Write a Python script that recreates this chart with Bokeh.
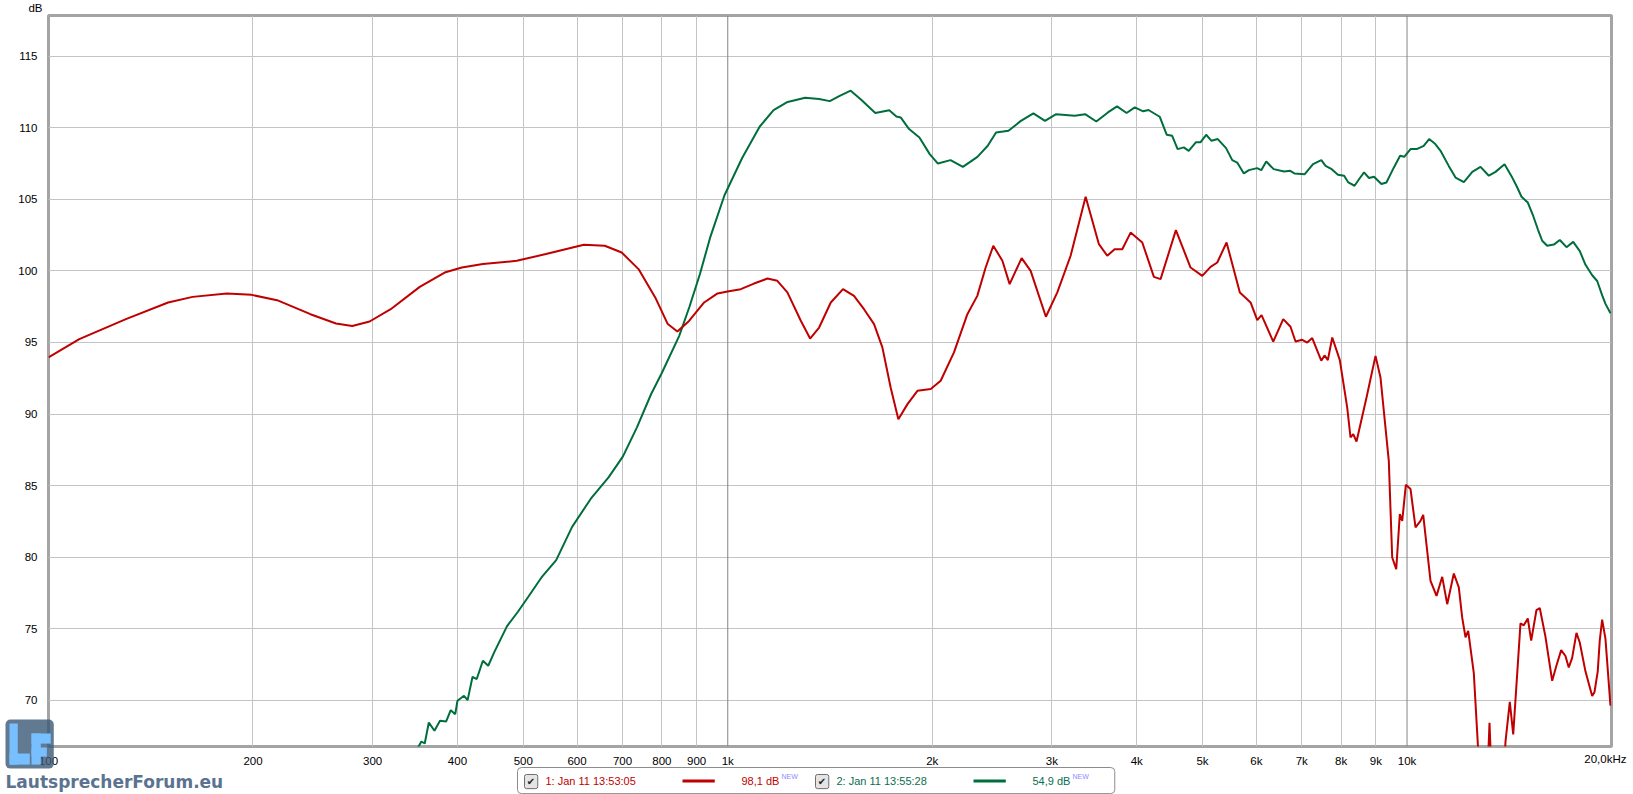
from bokeh.embed import file_html
from bokeh.models import FixedTicker, Label, Range1d, Span
from bokeh.plotting import figure
from bokeh.resources import INLINE

# measurement 1 (red): frequency in Hz, level in dB
red_freq = [100, 111, 130, 150, 163, 183, 199, 217, 243, 265,
            280, 297, 319, 352, 383, 406, 436, 489, 540, 614,
            659, 698, 739, 782, 816, 843, 877, 923, 966, 999,
            1045, 1093, 1144, 1183, 1224, 1281, 1322, 1363, 1418, 1478,
            1534, 1587, 1642, 1689, 1737, 1783, 1839, 1902, 1990, 2058,
            2153, 2253, 2330, 2397, 2460, 2537, 2600, 2708, 2792, 2940,
            3056, 3197, 3364, 3519, 3620, 3711, 3809, 3918, 4076, 4240,
            4337, 4568, 4801, 4995, 5138, 5256, 5424, 5674, 5884, 6019,
            6107, 6354, 6573, 6737, 6853, 7010, 7130, 7252, 7477, 7561,
            7646, 7761, 7963, 8165, 8257, 8333, 8427, 8717, 8987, 9140,
            9401, 9510, 9641, 9759, 9839, 9960, 10119, 10292, 10468, 10564,
            10829, 11052, 11267, 11460, 11719, 11919, 12057, 12193, 12305, 12541,
            12729, 12916, 13092, 13226, 13362, 13822, 13963, 14168, 14333, 14691,
            14856, 15059, 15233, 15509, 15683, 15989, 16356, 16596, 16863, 17110,
            17302, 17503, 17760, 17960, 18310, 18731, 18877, 19089, 19219, 19376,
            19593, 19929]
red_db = [93.95, 95.23, 96.63, 97.79, 98.18, 98.42, 98.32, 97.95, 96.97, 96.32,
          96.14, 96.46, 97.32, 98.88, 99.88, 100.23, 100.47, 100.70, 101.17, 101.82,
          101.75, 101.28, 100.12, 98.14, 96.28, 95.76, 96.5, 97.79, 98.42, 98.56,
          98.72, 99.11, 99.46, 99.30, 98.49, 96.51, 95.27, 96.04, 97.79, 98.72,
          98.25, 97.32, 96.28, 94.65, 91.85, 89.64, 90.69, 91.62, 91.74, 92.32,
          94.30, 96.97, 98.25, 100.23, 101.75, 100.70, 99.07, 100.89, 100.0, 96.79,
          98.49, 101.05, 105.17, 101.86, 101.05, 101.51, 101.51, 102.67, 101.98, 99.58,
          99.42, 102.84, 100.23, 99.65, 100.28, 100.58, 101.98, 98.49, 97.79, 96.56,
          96.91, 95.06, 96.63, 96.09, 95.06, 95.18, 94.99, 95.30, 93.72, 94.09,
          93.76, 95.34, 93.76, 90.45, 88.36, 88.60, 88.08, 91.15, 94.06, 92.55,
          86.73, 79.98, 79.17, 83.01, 82.54, 85.06, 84.76, 82.08, 82.54, 82.96,
          78.35, 77.30, 78.63, 76.72, 78.86, 77.89, 75.78, 74.41, 74.86, 71.9,
          66.5, 63.0, 63.0, 68.43, 63.0, 63.0, 67.12, 69.89, 67.63, 75.38,
          75.24, 75.72, 74.17, 76.31, 76.45, 74.44, 71.37, 72.44, 73.51, 73.10,
          72.3, 72.97, 74.71, 74.04, 72.03, 70.3, 70.57, 72.03, 74.17, 75.64,
          74.31, 69.63]

# measurement 2 (green)
green_freq = [346, 354, 358, 363, 370, 377, 385, 391, 397, 400,
              409, 414, 421, 427, 436, 444, 453, 473, 491, 508,
              533, 559, 590, 630, 668, 701, 735, 771, 799, 848,
              878, 910, 943, 989, 1050, 1114, 1168, 1225, 1300, 1363,
              1413, 1464, 1517, 1572, 1649, 1729, 1771, 1797, 1849, 1915,
              1983, 2039, 2128, 2219, 2331, 2414, 2483, 2590, 2701, 2818,
              2931, 3044, 3242, 3358, 3488, 3628, 3742, 3865, 3974, 4088,
              4163, 4324, 4429, 4511, 4595, 4692, 4771, 4887, 4964, 5062,
              5154, 5265, 5415, 5530, 5623, 5752, 5850, 6015, 6101, 6205,
              6363, 6591, 6731, 6827, 7070, 7272, 7479, 7587, 7747, 7912,
              8080, 8196, 8370, 8524, 8644, 8791, 8942, 9168, 9325, 9565,
              9768, 9906, 10119, 10334, 10582, 10778, 11007, 11203, 11524, 11788,
              12125, 12476, 12830, 13196, 13499, 13918, 14286, 14496, 14743, 15061,
              15339, 15580, 15813, 16084, 16448, 16786, 17171, 17565, 17962, 18312,
              18733, 19053, 19379, 19597, 19931]
green_db = [66.3, 67.13, 66.99, 68.46, 67.88, 68.58, 68.53, 69.32, 69.04, 69.97,
            70.32, 70.02, 71.65, 71.49, 72.77, 72.42, 73.35, 75.17, 76.19, 77.2,
            78.65, 79.8, 82.12, 84.15, 85.59, 87.04, 89.07, 91.38, 92.83, 95.44,
            97.47, 99.78, 102.39, 105.28, 107.88, 110.06, 111.22, 111.79, 112.08, 112.0,
            111.85, 112.23, 112.58, 111.94, 111.02, 111.22, 110.78, 110.71, 109.9, 109.31,
            108.15, 107.49, 107.73, 107.26, 107.96, 108.73, 109.66, 109.78, 110.47, 110.99,
            110.47, 110.94, 110.83, 110.94, 110.43, 111.06, 111.48, 111.02, 111.41, 111.14,
            111.23, 110.76, 109.5, 109.43, 108.5, 108.62, 108.38, 108.97, 108.97, 109.5,
            109.08, 109.2, 108.57, 107.73, 107.56, 106.8, 107.03, 107.17, 107.03, 107.63,
            107.10, 106.93, 106.98, 106.8, 106.75, 107.45, 107.73, 107.33, 107.1, 106.71,
            106.64, 106.17, 105.94, 106.48, 106.87, 106.48, 106.57, 106.06, 106.17, 107.22,
            108.03, 107.96, 108.5, 108.5, 108.73, 109.2, 108.85, 108.38, 107.31, 106.51,
            106.19, 106.91, 107.26, 106.64, 106.91, 107.44, 106.51, 105.92, 105.17, 104.77,
            103.83, 102.9, 102.1, 101.75, 101.83, 102.15, 101.65, 102.02, 101.38, 100.42,
            99.69, 99.29, 98.28, 97.69, 97.03]

x_ticks = [100, 200, 300, 400, 500, 600, 700, 800, 900, 1000,
           2000, 3000, 4000, 5000, 6000, 7000, 8000, 9000, 10000, 20000]
x_labels = ["100", "200", "300", "400", "500", "600", "700", "800", "900", "1k",
            "2k", "3k", "4k", "5k", "6k", "7k", "8k", "9k", "10k", ""]
y_ticks = [70, 75, 80, 85, 90, 95, 100, 105, 110, 115]

legend_names = ["1: Jan 11 13:53:05", "2: Jan 11 13:55:28"]
legend_values = ["98,1 dB", "54,9 dB"]

RED = "#c00000"
GREEN = "#006e3c"
FONT = "Liberation Sans"

p = figure(x_axis_type="log", x_range=Range1d(100, 20000), y_range=Range1d(66.78, 117.83),
           frame_width=1563, frame_height=731,
           min_border_left=48, min_border_right=21, min_border_top=15, min_border_bottom=47,
           title=None, toolbar_location=None, output_backend="svg",
           background_fill_color="white", border_fill_color="white")

p.outline_line_color = "#a4a4a4"
p.outline_line_width = 3

for ax in (p.xaxis, p.yaxis):
    ax.axis_line_color = None
    ax.major_tick_line_color = None
    ax.minor_tick_line_color = None
    ax.major_label_text_font = FONT
    ax.major_label_text_font_size = "11.5px"
    ax.major_label_text_color = "#000000"
p.xaxis.major_label_standoff = 2
p.yaxis.major_label_standoff = 5

p.xaxis.ticker = FixedTicker(ticks=x_ticks)
p.xaxis.major_label_overrides = dict(zip(x_ticks, x_labels))
p.yaxis.ticker = FixedTicker(ticks=y_ticks)

p.xgrid.ticker = FixedTicker(ticks=[t for t in x_ticks if t not in (1000, 10000)])
p.xgrid.grid_line_color = "#c4c4c4"
p.ygrid.grid_line_color = "#c4c4c4"
for loc in (1000, 10000):
    p.add_layout(Span(location=loc, dimension="height", line_color="#858585",
                      line_width=1, level="underlay"))

p.line(green_freq, green_db, line_color=GREEN, line_width=2)
p.line(red_freq, red_db, line_color=RED, line_width=2)


# extras live in side panels (not clipped to the frame), placed in canvas pixels
def note(text, x, y, size, color, align="left", baseline="middle", font=FONT,
         style="normal", side="below"):
    p.add_layout(Label(x=x, y=y, x_units="canvas", y_units="canvas", text=text,
                       text_font=font, text_font_size=size, text_color=color,
                       text_align=align, text_baseline=baseline, text_font_style=style), side)


def box(left, right, top, bottom, fill, line=None, alpha=1.0, radius=0):
    # an empty label whose padded background is the rectangle
    w, h = int(round(right - left)), int(round(bottom - top))
    p.add_layout(Label(x=left, y=top, x_units="canvas", y_units="canvas", text=" ",
                       text_font_size="1px", text_align="left", text_baseline="top",
                       padding=dict(left=0, right=w, top=0, bottom=h),
                       background_fill_color=fill, background_fill_alpha=alpha,
                       border_line_color=line, border_radius=radius), "below")


# forum logo (under the axis captions)
box(5, 53, 719, 767, "#3b5877", alpha=0.8, radius=5)
for l, r, t, b in [(9, 17, 723, 763), (9, 29, 753, 763),
                   (31, 40, 733, 763), (31, 50, 733, 742), (31, 46, 747, 755)]:
    box(l, r, t, b, "#78bfff")
note("LautsprecherForum.eu", 5, 781.7, "17px", "#5b7391", baseline="alphabetic",
     font="DejaVu Sans", style="bold")

# axis captions
note("dB", 42, 1, "11.5px", "#000000", align="right", baseline="top", side="left")
note("20,0kHz", 1626, 752, "11.5px", "#000000", align="right", baseline="top")

# legend strip under the axis
box(517, 1114, 767, 792, "white", line="#8c8c8c", radius=4)
legend_x = [524, 815]
legend_colors = [RED, "#0a6e4e"]
line_colors = [RED, GREEN]
for i in range(2):
    x0 = legend_x[i]
    box(x0, x0 + 13, 774, 787, "#e4e4e4", line="#6e6e6e", radius=2)
    note("\u2714", x0 + 6.5, 780.5, "10px", "#222222", align="center", font="DejaVu Sans")
    note(legend_names[i], x0 + 21, 780.5, "11px", legend_colors[i])
    box(x0 + 158, x0 + 190, 779, 781, line_colors[i])
    note(legend_values[i], x0 + 217, 780.5, "11px", legend_colors[i])
    note("NEW", x0 + 257, 776, "7px", "#8c8cff")

open("out.html", "w").write(file_html(p, INLINE))
